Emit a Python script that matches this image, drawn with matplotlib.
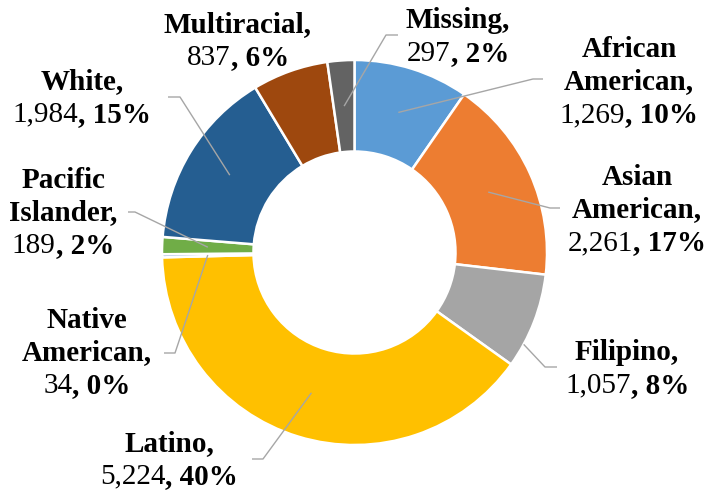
import numpy as np
import matplotlib
matplotlib.use("Agg")
import matplotlib.pyplot as plt
from matplotlib.offsetbox import TextArea, HPacker, VPacker, AnnotationBbox

# data (clockwise from 12 o'clock)
groups = ["African American", "Asian American", "Filipino", "Latino", "Native American",
          "Pacific Islander", "White", "Multiracial", "Missing"]
counts = [1269, 2261, 1057, 5224, 34, 189, 1984, 837, 297]
percents = [10, 17, 8, 40, 0, 2, 15, 6, 2]
colors = ["#5B9BD5", "#ED7D31", "#A5A5A5", "#FFC000", "#4472C4",
          "#70AD47", "#255E91", "#9E480E", "#636363"]

# label layout (pixel coords, y from top): name lines, block centre, leader elbow + end
name_lines = [["African", "American,"], ["Asian", "American,"], ["Filipino,"], ["Latino,"],
              ["Native", "American,"], ["Pacific", "Islander,"], ["White,"], ["Multiracial,"],
              ["Missing,"]]
label_pos = [(629, 82), (637, 210), (627, 369), (169, 460), (87, 353),
             (63, 213), (82, 98), (238, 41), (458, 37)]
leaders = [[(533, 79), (543, 79)], [(550, 208), (560, 208)], [(545, 367), (557, 367)],
           [(263, 459), (252, 459)], [(175, 353), (164, 353)], [(135, 212), (128, 212)],
           [(180, 97), (168, 97)], None, [(386, 35), (398, 35)]]

W, H = 707, 494
cx, cy = 354.5, H - 252.5
R_out, R_in = 192.5, 101

fig = plt.figure(figsize=(W / 100, H / 100), dpi=100)
ax = fig.add_axes([0, 0, 1, 1])
wedges, _ = ax.pie(counts, colors=colors, startangle=90, counterclock=False,
                   radius=R_out, center=(cx, cy), frame=True,
                   wedgeprops=dict(width=R_out - R_in, edgecolor="white", linewidth=1.8))
ax.set_xlim(0, W)
ax.set_ylim(0, H)
ax.set_aspect("equal")
ax.axis("off")

font = "Liberation Serif"
fs = 21
reg = dict(fontfamily=font, fontsize=fs, color="black")
bold = dict(fontfamily=font, fontsize=fs, color="black", fontweight="bold")

total = sum(counts)
cum = 0
for i, name in enumerate(groups):
    mid = (cum + counts[i] / 2) / total
    cum += counts[i]
    ang = np.deg2rad(90 - mid * 360)
    r_mid = (R_out + R_in) / 2
    ax_pt = (cx + r_mid * np.cos(ang), cy + r_mid * np.sin(ang))
    if name == "Filipino":
        a2 = np.deg2rad(-28.5)
        ax_pt = (cx + R_out * np.cos(a2), cy + R_out * np.sin(a2))
    if leaders[i] is not None:
        xs = [ax_pt[0]] + [p[0] for p in leaders[i]]
        ys = [ax_pt[1]] + [H - p[1] for p in leaders[i]]
        ax.plot(xs, ys, color="#A6A6A6", lw=1.0, solid_capstyle="butt")

    rows = [TextArea(s, textprops=bold) for s in name_lines[i]]
    rows.append(HPacker(children=[TextArea(f"{counts[i]:,}", textprops=reg),
                                  TextArea(f", {percents[i]}%", textprops=bold)],
                        align="baseline", pad=0, sep=0))
    box = VPacker(children=rows, align="center", pad=0, sep=4)
    lx, ly = label_pos[i]
    ab = AnnotationBbox(box, (lx, H - ly), xycoords="data", frameon=False,
                        box_alignment=(0.5, 0.5), pad=0)
    ax.add_artist(ab)

fig.savefig("out.png", dpi=100)
